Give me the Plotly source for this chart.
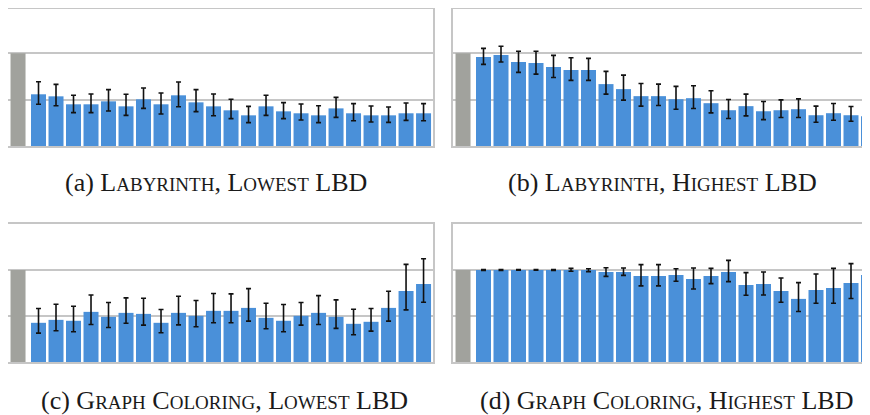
import plotly.graph_objects as go

# ---------------- data ----------------
categories = ["baseline"] + [str(i) for i in range(1, 24)]
baseline_value = [1.0]

lab_low = [0.558, 0.536, 0.450, 0.450, 0.482, 0.428, 0.504, 0.450, 0.547, 0.471, 0.428, 0.385,
           0.331, 0.428, 0.374, 0.353, 0.331, 0.406, 0.353, 0.331, 0.331, 0.353, 0.353]
lab_low_up = [0.694, 0.665, 0.547, 0.561, 0.608, 0.558, 0.626, 0.572, 0.691, 0.608, 0.561, 0.504,
              0.428, 0.547, 0.468, 0.453, 0.435, 0.525, 0.457, 0.432, 0.421, 0.464, 0.457]
lab_low_dn = [0.450, 0.435, 0.360, 0.360, 0.378, 0.331, 0.406, 0.345, 0.424, 0.371, 0.327, 0.295,
              0.252, 0.331, 0.295, 0.281, 0.252, 0.309, 0.273, 0.259, 0.255, 0.277, 0.273]

lab_high = [0.960, 0.982, 0.906, 0.895, 0.852, 0.820, 0.820, 0.668, 0.614, 0.538, 0.538, 0.505,
            0.516, 0.462, 0.386, 0.430, 0.375, 0.386, 0.397, 0.332, 0.354, 0.332, 0.321]
lab_high_up = [1.054, 1.076, 1.022, 1.022, 0.978, 0.953, 0.946, 0.805, 0.765, 0.675, 0.668, 0.643,
               0.650, 0.596, 0.502, 0.560, 0.480, 0.498, 0.509, 0.430, 0.458, 0.426, 0.404]
lab_high_dn = [0.881, 0.906, 0.794, 0.776, 0.740, 0.708, 0.708, 0.560, 0.495, 0.430, 0.437, 0.397,
               0.404, 0.357, 0.296, 0.325, 0.285, 0.307, 0.307, 0.256, 0.278, 0.267, 0.253]

gc_low = [0.426, 0.458, 0.448, 0.545, 0.491, 0.534, 0.523, 0.426, 0.534, 0.502, 0.556, 0.556,
          0.588, 0.480, 0.448, 0.502, 0.534, 0.491, 0.415, 0.437, 0.588, 0.773, 0.848]
gc_low_up = [0.581, 0.628, 0.606, 0.729, 0.646, 0.697, 0.693, 0.570, 0.715, 0.668, 0.744, 0.740,
             0.798, 0.639, 0.625, 0.646, 0.722, 0.675, 0.574, 0.581, 0.769, 1.061, 1.123]
gc_low_dn = [0.314, 0.339, 0.329, 0.408, 0.375, 0.422, 0.401, 0.318, 0.404, 0.383, 0.426, 0.426,
             0.444, 0.361, 0.329, 0.401, 0.408, 0.365, 0.296, 0.336, 0.444, 0.567, 0.650]

gc_high = [1.000, 1.000, 1.000, 1.000, 1.000, 1.000, 1.000, 0.978, 0.978, 0.935, 0.935, 0.946,
           0.903, 0.935, 0.978, 0.838, 0.848, 0.773, 0.686, 0.783, 0.805, 0.859, 0.946]
gc_high_up = [1.005, 1.005, 1.004, 1.004, 1.005, 1.018, 1.014, 1.025, 1.022, 1.058, 1.058, 1.014,
              1.022, 1.018, 1.105, 0.971, 0.978, 0.913, 0.863, 0.957, 1.018, 1.069, 1.195]
gc_high_dn = [0.996, 0.996, 0.997, 0.997, 0.996, 0.986, 0.982, 0.931, 0.942, 0.827, 0.827, 0.877,
              0.794, 0.852, 0.874, 0.726, 0.729, 0.650, 0.549, 0.639, 0.639, 0.690, 0.755]

SC = "<span style='font-size:19px'>{}</span>"
captions = [
    "(a) L" + SC.format("ABYRINTH") + ", L" + SC.format("OWEST") + " LBD",
    "(b) L" + SC.format("ABYRINTH") + ", H" + SC.format("IGHEST") + " LBD",
    "(c) G" + SC.format("RAPH") + " C" + SC.format("OLORING") + ", L" + SC.format("OWEST") + " LBD",
    "(d) G" + SC.format("RAPH") + " C" + SC.format("OLORING") + ", H" + SC.format("IGHEST") + " LBD",
]

panels = [
    (lab_low, lab_low_up, lab_low_dn),
    (lab_high, lab_high_up, lab_high_dn),
    (gc_low, gc_low_up, gc_low_dn),
    (gc_high, gc_high_up, gc_high_dn),
]

# ---------------- layout geometry ----------------
# the page body adds an 8px margin around the figure
OFF = 8
W, H = 870 - 2 * OFF, 415 - OFF
BLUE = "#4a90d9"
GREY = "#a1a29d"
LINE = "#c6c6c6"
BAR_W = 0.857
PX_PER_CAT = 17.5


def px_x(a, b):
    return (max(0.0, (a - OFF) / W), min(1.0, (b - OFF) / W))


def px_y(top, bottom):
    return (max(0.0, 1 - (bottom - OFF) / H), min(1 - 1.0 / H, 1 - (top - OFF) / H))


x_domains = [px_x(8, 433), px_x(453, 870), px_x(8, 433), px_x(453, 870)]
right_w = (1.0 - x_domains[1][0]) * W
x_ranges = [(-0.743, 23.54), (-0.743, -0.743 + right_w / PX_PER_CAT),
            (-0.743, 23.54), (-0.743, -0.743 + right_w / PX_PER_CAT)]
y_domains = [px_y(7, 146), px_y(7, 146), px_y(224, 362), px_y(224, 362)]
y_ranges = [(0, 1.5 - 1.5 / 139 * 2), (0, 1.5 - 1.5 / 139 * 2), (0, 1.5), (0, 1.5)]
cap_pos = [(216, 183), (662, 183), (224, 400), (666, 400)]

fig = go.Figure()
layout = dict(width=W, height=H, margin=dict(l=0, r=0, t=0, b=0),
              paper_bgcolor="white", plot_bgcolor="white", showlegend=False,
              barmode="overlay")

for k, (vals, up, dn) in enumerate(panels):
    n = k + 1
    xa = "x" if n == 1 else f"x{n}"
    ya = "y" if n == 1 else f"y{n}"
    plus = [u - v for u, v in zip(up, vals)]
    minus = [v - d for v, d in zip(vals, dn)]
    fig.add_trace(go.Bar(x=categories[:1], y=baseline_value, marker_color=GREY,
                         marker_line_width=0, width=BAR_W, offset=-BAR_W / 2 - 0.17,
                         xaxis=xa, yaxis=ya, hoverinfo="skip"))
    fig.add_trace(go.Bar(x=categories[1:], y=vals, marker_color=BLUE, marker_line_width=0,
                         width=BAR_W, xaxis=xa, yaxis=ya,
                         error_y=dict(type="data", symmetric=False, array=plus,
                                      arrayminus=minus, color="#111111",
                                      thickness=1.6, width=2.5)))
    full_box = n in (1, 3)
    layout["xaxis" if n == 1 else f"xaxis{n}"] = dict(
        domain=list(x_domains[k]), range=list(x_ranges[k]), type="category",
        categoryorder="array", categoryarray=categories,
        anchor=ya, showticklabels=False, ticks="", showgrid=False, zeroline=False,
        showline=True, linecolor=LINE, linewidth=2, mirror=True, fixedrange=True)
    layout["yaxis" if n == 1 else f"yaxis{n}"] = dict(
        domain=list(y_domains[k]), range=list(y_ranges[k]), anchor=xa,
        tickvals=[0.5, 1.0], showticklabels=False, ticks="",
        showgrid=True, gridcolor=LINE, gridwidth=1.5, zeroline=False,
        showline=True, linecolor=LINE, linewidth=2, mirror=full_box, fixedrange=True)

fig.update_layout(**layout)

for k, text in enumerate(captions):
    cx, cy = cap_pos[k]
    fig.add_annotation(x=(cx - OFF) / W, y=1 - (cy - OFF) / H, xref="paper", yref="paper",
                       text=text, showarrow=False, xanchor="center", yanchor="middle",
                       font=dict(family="Liberation Serif", size=26, color="#1a1a1a"))

fig.write_html("out.html")
